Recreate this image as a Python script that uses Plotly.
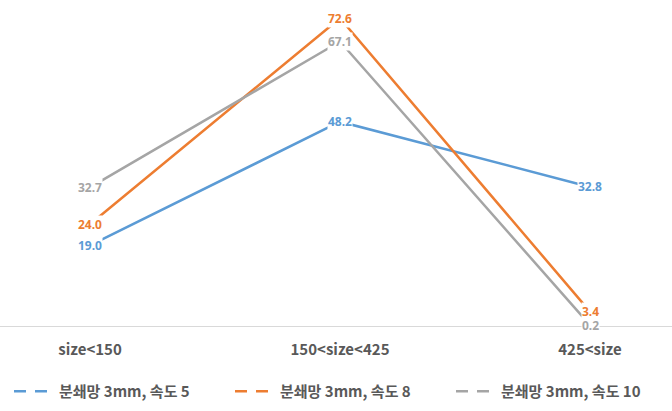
import plotly.graph_objects as go

categories = ["size<150", "150<size<425", "425<size"]
series_names = ["분쇄망 3mm, 속도 5", "분쇄망 3mm, 속도 8", "분쇄망 3mm, 속도 10"]
speed5 = [19.0, 48.2, 32.8]
speed8 = [24.0, 72.6, 3.4]
speed10 = [32.7, 67.1, 0.2]
colors = ["#5B9BD5", "#ED7D31", "#A5A5A5"]

all_series = [speed5, speed8, speed10]
xi = list(range(len(categories)))
FONT = "Noto Sans CJK KR"

fig = go.Figure()
annotations = []
for name, vals, col in zip(series_names, all_series, colors):
    fig.add_trace(go.Scatter(x=xi, y=vals, mode="lines", name=name,
                             line=dict(color=col, width=2.5), showlegend=False,
                             hoverinfo="skip"))
    for x, v in zip(xi, vals):
        annotations.append(dict(x=x, y=v, xref="x", yref="y", text=f"{v:.1f}",
                                showarrow=False, bgcolor="white", borderpad=0,
                                font=dict(color=col, size=12, family="Noto Sans",
                                          weight="bold")))
# legend entries
for name, col in zip(series_names, colors):
    fig.add_trace(go.Scatter(x=[None], y=[None], mode="lines", name=name,
                             line=dict(color=col, width=2.5, dash="12px,9px")))

fig.update_layout(
    width=672, height=411,
    margin=dict(l=0, r=0, t=0, b=85),
    plot_bgcolor="white", paper_bgcolor="white",
    font=dict(family=FONT, size=15, color="#595959", weight="bold"),
    annotations=annotations,
    legend=dict(orientation="h", x=0.525, xanchor="center", y=-0.15, yanchor="top",
                font=dict(size=15, color="#595959", family=FONT, weight="bold"),
                itemwidth=40, entrywidth=166, tracegroupgap=0),
    xaxis=dict(tickmode="array", tickvals=xi, ticktext=categories,
               range=[-0.36, 2.328], showgrid=False, zeroline=False,
               showline=False, ticks="", ticklabelstandoff=13,
               tickfont=dict(size=15, color="#595959", family=FONT, weight="bold")),
    yaxis=dict(range=[0, 76.9], showgrid=False, zeroline=True, zerolinecolor="#D9D9D9",
               zerolinewidth=1, showticklabels=False, showline=False),
)

fig.write_html("out.html")
